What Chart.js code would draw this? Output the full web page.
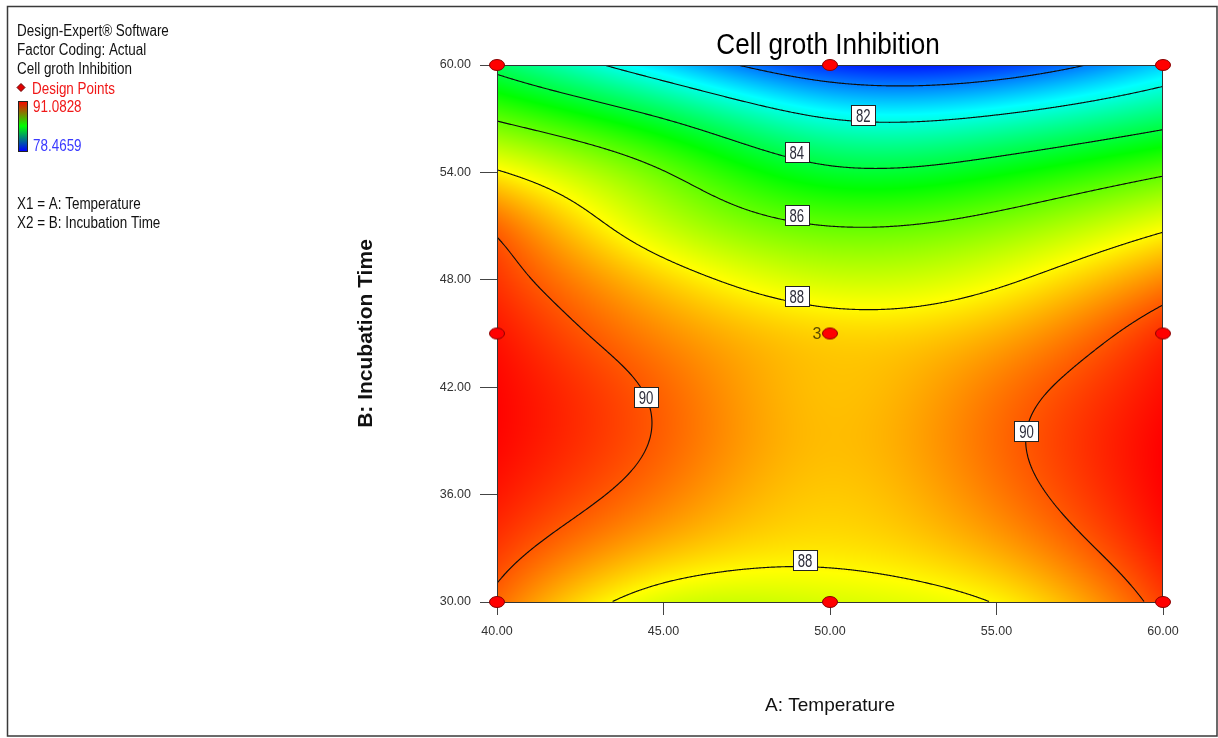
<!DOCTYPE html>
<html>
<head>
<meta charset="utf-8">
<script src="https://cdn.jsdelivr.net/npm/chart.js@4.4.1/dist/chart.umd.min.js"></script>
<style>
  html, body { margin: 0; padding: 0; background: #fff; }
</style>
</head>
<body>
<canvas id="myChart" width="1218" height="738"></canvas>
<script>
// response values, one array per temperature column
const tempA = [40, 45, 50, 55, 60];
const timeB = [30, 33, 36, 39, 42, 45, 48, 51, 54, 57, 60];
const inhib40 = [89.78, 90.38, 90.8, 91.02, 91.03, 90.83, 90.43, 89.8, 88.1, 85.9, 83.6];
const inhib45 = [87.5, 88.8, 89.55, 89.88, 89.81, 89.35, 88.5, 87.25, 86.05, 84.0, 81.1];
const inhib50 = [87.45, 88.25, 88.6, 88.75, 88.7, 88.45, 87.35, 86.0, 84.25, 82.0, 79.0];
const inhib55 = [88.05, 89.0, 89.55, 89.75, 89.55, 88.9, 87.8, 86.44, 84.64, 82.2, 79.1];
const inhib60 = [90.3, 90.8, 91.05, 91.08, 90.9, 90.5, 89.4, 87.8, 85.85, 83.5, 81.0];
const inhibGrid = [inhib40, inhib45, inhib50, inhib55, inhib60];

// design points (3 replicates at the centre)
const designA = [40, 40, 40, 50, 50, 50, 60, 60, 60];
const designB = [30, 45, 60, 30, 45, 60, 30, 45, 60];

const contourLevels = [80, 82, 84, 86, 88, 90];
const xTicks = [40, 45, 50, 55, 60];
const yTicks = [30, 36, 42, 48, 54, 60];
const colorMin = 78.4659;
const colorMax = 91.0828;

function naturalSpline(xs, ys) {
  const n = xs.length;
  const m = new Array(n).fill(0);
  const cp = new Array(n).fill(0), dp = new Array(n).fill(0);
  for (let i = 1; i < n - 1; i++) {
    const h0 = xs[i] - xs[i - 1], h1 = xs[i + 1] - xs[i];
    const d = 6 * ((ys[i + 1] - ys[i]) / h1 - (ys[i] - ys[i - 1]) / h0);
    const den = 2 * (h0 + h1) - h0 * cp[i - 1];
    cp[i] = h1 / den;
    dp[i] = (d - h0 * dp[i - 1]) / den;
  }
  for (let i = n - 2; i >= 1; i--) m[i] = dp[i] - cp[i] * m[i + 1];
  return t => {
    let k = 0;
    while (k < n - 2 && t > xs[k + 1]) k++;
    const h = xs[k + 1] - xs[k];
    const A = (xs[k + 1] - t) / h, B = (t - xs[k]) / h;
    return A * ys[k] + B * ys[k + 1] + ((A * A * A - A) * m[k] + (B * B * B - B) * m[k + 1]) * h * h / 6;
  };
}

const colSplines = inhibGrid.map(col => naturalSpline(timeB, col));
function surfaceAt(a, b) {
  return naturalSpline(tempA, colSplines.map(s => s(b)))(a);
}

const ramp = [[0, 0, 0, 255], [0.25, 0, 255, 255], [0.5, 0, 255, 0], [0.75, 255, 255, 0], [1, 255, 0, 0]];
function rampColor(v) {
  let t = (v - colorMin) / (colorMax - colorMin);
  t = Math.max(0, Math.min(1, t));
  let k = 0;
  while (k < ramp.length - 2 && t > ramp[k + 1][0]) k++;
  const s0 = ramp[k], s1 = ramp[k + 1];
  const f = (t - s0[0]) / (s1[0] - s0[0]);
  return [s0[1] + (s1[1] - s0[1]) * f, s0[2] + (s1[2] - s0[2]) * f, s0[3] + (s1[3] - s0[3]) * f];
}

function bisect(fn, lo, hi) {
  let flo = fn(lo);
  for (let i = 0; i < 40; i++) {
    const mid = (lo + hi) / 2, fm = fn(mid);
    if ((fm > 0) === (flo > 0)) { lo = mid; flo = fm; } else hi = mid;
  }
  return (lo + hi) / 2;
}

// squeezed text, the original export is horizontally condensed
function drawText(ctx, text, x, y, size, sx, color, weight, align) {
  ctx.save();
  ctx.translate(x, y);
  ctx.scale(sx, 1);
  ctx.font = (weight || '') + ' ' + size + 'px Arial, "Liberation Sans", sans-serif';
  ctx.fillStyle = color;
  ctx.textAlign = align || 'left';
  ctx.textBaseline = 'alphabetic';
  ctx.fillText(text, 0, 0);
  ctx.restore();
}

// contour label anchors: horizontal ones search along B, vertical ones along A
const labelSpots = [
  { lv: 82, a: 51.0, lo: 55, hi: 60 },
  { lv: 84, a: 49.0, lo: 52, hi: 58 },
  { lv: 86, a: 49.0, lo: 48, hi: 56 },
  { lv: 88, a: 49.0, lo: 42, hi: 52 },
  { lv: 88, a: 49.25, lo: 30, hi: 38 },
  { lv: 90, b: 41.45, lo: 40, hi: 50 },
  { lv: 90, b: 39.55, lo: 50, hi: 60 }
];

const surfacePlugin = {
  id: 'surface',
  beforeDatasetsDraw(chart) {
    const { ctx, chartArea: ca, scales: { x, y } } = chart;
    const L = Math.round(ca.left), T = Math.round(ca.top);
    const w = Math.round(ca.right) - L, h = Math.round(ca.bottom) - T;
    const field = new Float32Array(w * h);
    const img = ctx.createImageData(w, h);
    const aVals = [];
    for (let i = 0; i < w; i++) aVals.push(x.getValueForPixel(L + i + 0.5));
    for (let j = 0; j < h; j++) {
      const b = y.getValueForPixel(T + j + 0.5);
      const row = naturalSpline(tempA, colSplines.map(s => s(b)));
      for (let i = 0; i < w; i++) {
        const v = row(aVals[i]);
        field[j * w + i] = v;
        const c = rampColor(v);
        const p = (j * w + i) * 4;
        img.data[p] = c[0]; img.data[p + 1] = c[1]; img.data[p + 2] = c[2]; img.data[p + 3] = 255;
      }
    }
    ctx.putImageData(img, L, T);

    ctx.save();
    ctx.beginPath();
    for (const lv of contourLevels) {
      for (let j = 0; j < h - 1; j++) {
        for (let i = 0; i < w - 1; i++) {
          const v0 = field[j * w + i], v1 = field[j * w + i + 1];
          const v2 = field[(j + 1) * w + i + 1], v3 = field[(j + 1) * w + i];
          const b0 = v0 > lv, b1 = v1 > lv, b2 = v2 > lv, b3 = v3 > lv;
          if (b0 === b1 && b1 === b2 && b2 === b3) continue;
          const pts = [];
          if (b0 !== b1) pts.push([i + (lv - v0) / (v1 - v0), j]);
          if (b1 !== b2) pts.push([i + 1, j + (lv - v1) / (v2 - v1)]);
          if (b2 !== b3) pts.push([i + 1 - (lv - v2) / (v3 - v2), j + 1]);
          if (b3 !== b0) pts.push([i, j + 1 - (lv - v3) / (v0 - v3)]);
          for (let k = 0; k + 1 < pts.length; k += 2) {
            ctx.moveTo(L + 0.5 + pts[k][0], T + 0.5 + pts[k][1]);
            ctx.lineTo(L + 0.5 + pts[k + 1][0], T + 0.5 + pts[k + 1][1]);
          }
        }
      }
    }
    ctx.strokeStyle = '#0d0d0d';
    ctx.lineWidth = 1.15;
    ctx.stroke();

    // contour labels
    for (const s of labelSpots) {
      let px, py;
      if (s.a !== undefined) {
        const b = bisect(bb => surfaceAt(s.a, bb) - s.lv, s.lo, s.hi);
        px = x.getPixelForValue(s.a);
        py = y.getPixelForValue(b) - 7;
      } else {
        const a = bisect(aa => surfaceAt(aa, s.b) - s.lv, s.lo, s.hi);
        px = x.getPixelForValue(a);
        py = y.getPixelForValue(s.b);
      }
      const bw = 24, bh = 20;
      const bx = Math.round(px - bw / 2) + 0.5, by = Math.round(py - bh / 2) + 0.5;
      ctx.fillStyle = '#ffffff';
      ctx.fillRect(bx, by, bw, bh);
      ctx.strokeStyle = '#222';
      ctx.lineWidth = 1;
      ctx.strokeRect(bx, by, bw, bh);
      drawText(ctx, String(s.lv), px, by + 16, 18, 0.73, '#2c2c3a', '', 'center');
    }

    ctx.strokeStyle = '#333';
    ctx.lineWidth = 1;
    ctx.strokeRect(L + 0.5, T + 0.5, w - 1, h);
    ctx.restore();
  },
  afterDraw(chart) {
    const { ctx, scales: { x, y } } = chart;
    ctx.save();
    // replicate count at the centre point
    ctx.font = '16px Arial, "Liberation Sans", sans-serif';
    ctx.fillStyle = '#5e4c00';
    ctx.textAlign = 'center';
    ctx.textBaseline = 'alphabetic';
    ctx.fillText('3', x.getPixelForValue(50) - 13, y.getPixelForValue(45) + 5);

    drawText(ctx, 'Cell groth Inhibition', 828, 54, 29, 0.9, '#000', '', 'center');

    drawText(ctx, 'Design-Expert\u00ae Software', 17, 35.5, 16, 0.84, '#111');
    drawText(ctx, 'Factor Coding: Actual', 17, 54.5, 16, 0.84, '#111');
    drawText(ctx, 'Cell groth Inhibition', 17, 74, 16, 0.84, '#111');
    drawText(ctx, 'Design Points', 32, 93.5, 16, 0.84, '#f01818');
    drawText(ctx, '91.0828', 33, 112, 16, 0.84, '#f01818');
    drawText(ctx, '78.4659', 33, 151, 16, 0.84, '#3a3aff');
    drawText(ctx, 'X1 = A: Temperature', 17, 209, 16, 0.84, '#111');
    drawText(ctx, 'X2 = B: Incubation Time', 17, 228, 16, 0.84, '#111');

    // diamond marker
    ctx.beginPath();
    ctx.moveTo(21, 83.5); ctx.lineTo(25, 87.5); ctx.lineTo(21, 91.5); ctx.lineTo(17, 87.5); ctx.closePath();
    ctx.fillStyle = '#e00000'; ctx.fill();
    ctx.strokeStyle = '#600'; ctx.lineWidth = 1; ctx.stroke();

    // colour bar
    const g = ctx.createLinearGradient(0, 101, 0, 151);
    g.addColorStop(0, '#ff0000');
    g.addColorStop(0.5, '#00ff00');
    g.addColorStop(1, '#0000ff');
    ctx.fillStyle = g;
    ctx.fillRect(18.5, 101.5, 9, 50);
    ctx.strokeStyle = '#222';
    ctx.strokeRect(18.5, 101.5, 9, 50);

    // outer frame
    ctx.strokeStyle = '#3a3a3a';
    ctx.lineWidth = 1.5;
    ctx.strokeRect(7.5, 6.5, 1209.5, 729.5);
    ctx.restore();
  }
};

const dot = document.createElement('canvas');
dot.width = 18; dot.height = 14;
const dc = dot.getContext('2d');
dc.beginPath();
dc.ellipse(9, 7, 7.5, 5.5, 0, 0, 2 * Math.PI);
dc.fillStyle = '#ff0000';
dc.fill();
dc.strokeStyle = '#8b0000';
dc.lineWidth = 1;
dc.stroke();

const tickFont = { family: 'Arial, "Liberation Sans", sans-serif', size: 12.5 };

new Chart('myChart', {
  type: 'scatter',
  data: {
    datasets: [{
      label: 'Design Points',
      data: designA.map((a, i) => ({ x: a, y: designB[i] })),
      pointStyle: dot,
      pointRadius: 6,
      clip: false
    }]
  },
  options: {
    responsive: false,
    animation: false,
    devicePixelRatio: 1,
    layout: { padding: { top: 65, right: 55, left: 0, bottom: 0 } },
    plugins: { legend: { display: false }, tooltip: { enabled: false } },
    scales: {
      x: {
        type: 'linear', min: 40, max: 60,
        afterBuildTicks: s => { s.ticks = xTicks.map(v => ({ value: v })); },
        afterFit: s => { s.height = 136; },
        ticks: { callback: v => v.toFixed(2), font: tickFont, color: '#333', padding: 9, maxRotation: 0 },
        grid: { drawOnChartArea: false, tickLength: 13, color: '#444' },
        border: { color: '#333' },
        title: {
          display: true, text: 'A: Temperature', color: '#111',
          font: { family: 'Arial, "Liberation Sans", sans-serif', size: 19 },
          padding: { top: 0, bottom: 20.6 }
        }
      },
      y: {
        type: 'linear', min: 30, max: 60,
        afterBuildTicks: s => { s.ticks = yTicks.map(v => ({ value: v })); },
        afterFit: s => { s.width = 497; },
        ticks: { callback: v => v.toFixed(2), font: tickFont, color: '#333', padding: 9 },
        grid: { drawOnChartArea: false, tickLength: 17, color: '#444' },
        border: { color: '#333' },
        title: {
          display: true, text: 'B: Incubation Time', color: '#111',
          font: { family: 'Arial, "Liberation Sans", sans-serif', size: 21, weight: 'bold' },
          padding: { top: 353.4, bottom: 0 }
        }
      }
    }
  },
  plugins: [surfacePlugin]
});
</script>
</body>
</html>
